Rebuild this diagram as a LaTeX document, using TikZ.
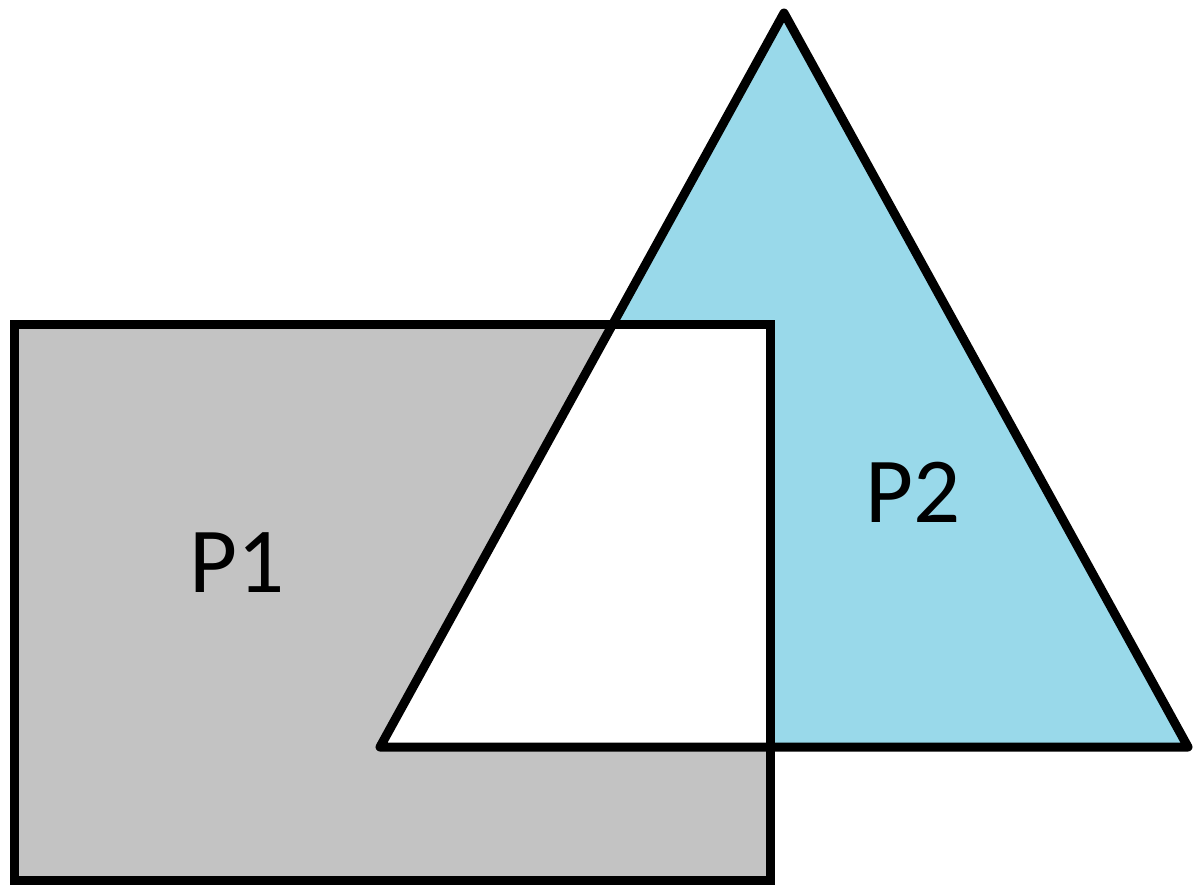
\documentclass[tikz,border=0pt]{standalone}
\usepackage{fontspec}
\setmainfont{Carlito}
\definecolor{paintgray}{HTML}{C3C3C3}
\definecolor{paintblue}{HTML}{99D9EA}
\begin{document}
\begin{tikzpicture}[x=1pt,y=-1pt,
  outline/.style={line width=9pt,draw=black},
  lbl/.style={font=\fontsize{93}{93}\selectfont, inner sep=0pt, text=black}]
\useasboundingbox (0,0) rectangle (1194,884);
\coordinate (r1) at (14,324.5);
\coordinate (r2) at (770,880);
\coordinate (tA) at (784,13);
\coordinate (tB) at (380,747);
\coordinate (tC) at (1188,747);
\fill[paintgray] (r1) rectangle (r2);
\fill[paintblue] (tA) -- (tB) -- (tC) -- cycle;
\begin{scope}
  \clip (r1) rectangle (r2);
  \fill[white] (tA) -- (tB) -- (tC) -- cycle;
\end{scope}
\draw[outline] (r1) rectangle (r2);
\draw[outline, line join=round] (tA) -- (tB) -- (tC) -- cycle;
\node[lbl] (p1) at (237,563) {P1};
\node[lbl] (p2) at (913,492) {P2};
\end{tikzpicture}
\end{document}
